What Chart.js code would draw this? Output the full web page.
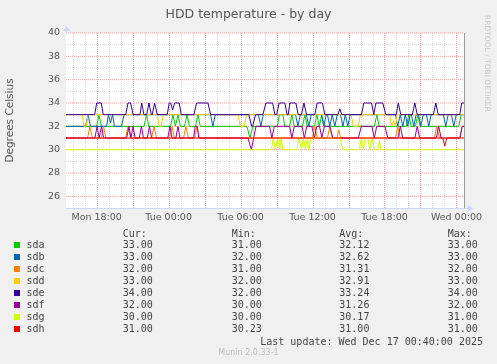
<!DOCTYPE html>
<html>
<head>
<meta charset="utf-8">
<script src="https://cdn.jsdelivr.net/npm/chart.js@4"></script>
<style>
  html, body { margin: 0; padding: 0; background: #F0F0F0; }
  #wrap { position: relative; width: 497px; height: 364px; overflow: hidden; font-family: 'DejaVu Sans', sans-serif; color: #555; }
  #wrap canvas { position: absolute; left: 0; top: 0; }
  .abs { position: absolute; white-space: nowrap; }
  .mono { font-family: 'DejaVu Sans Mono', monospace; font-size: 10px; line-height: 12px; color: #444; }
  .sq { position: absolute; width: 6px; height: 6px; }
</style>
</head>
<body>
<div id="wrap">
  <canvas id="hddChart" width="497" height="364"></canvas>
  <div class="abs" style="left:0;width:497px;top:6px;text-align:center;font-size:12.5px;">HDD temperature - by day</div>
  <div class="abs" style="left:483px;top:15px;font-size:7.5px;color:#c8c8c8;writing-mode:vertical-rl;">RRDTOOL / TOBI OETIKER</div>
  <div id="legend"></div>
  <div class="abs mono" style="right:14px;top:336px;">Last update: Wed Dec 17 00:40:00 2025</div>
  <div class="abs" style="left:0;width:497px;top:348px;text-align:center;font-size:8px;color:#bbb;">Munin 2.0.33-1</div>
</div>
<script>
// time axis in hours counted from Mon 00:00
const T0 = 15.44, T1 = 48.63;
const xLabelHours = [18, 24, 30, 36, 42, 48];
const xLabels = ['Mon 18:00', 'Tue 00:00', 'Tue 06:00', 'Tue 12:00', 'Tue 18:00', 'Wed 00:00'];
const yLabels = [26, 28, 30, 32, 34, 36, 38, 40];

const names = ['sda', 'sdb', 'sdc', 'sdd', 'sde', 'sdf', 'sdg', 'sdh'];
const colors = ['#00CC00', '#0066B3', '#FF8000', '#FFCC00', '#330099', '#990099', '#CCFF00', '#FF0000'];
const curVals = [33.00, 33.00, 32.00, 33.00, 34.00, 32.00, 30.00, 31.00];
const minVals = [31.00, 32.00, 31.00, 32.00, 32.00, 30.00, 30.00, 30.23];
const avgVals = [32.12, 32.62, 31.31, 32.91, 33.24, 31.26, 30.17, 31.00];
const maxVals = [33.00, 33.00, 32.00, 33.00, 34.00, 32.00, 31.00, 31.00];

// [hour, degrees] at each change
const sda = [[15.44,32],[17.99,32],[18.19,33],[18.39,32],[21.95,32],[22.15,33],[22.35,32],[24.16,32],[24.36,33],[24.56,32],
  [24.58,32],[24.78,33],[24.98,32],[25.33,32],[25.53,33],[25.73,32],[26.24,32],[26.44,33],[26.64,32],[30.53,32],[30.78,31],
  [31.03,32],[33.07,32],[33.23,33],[33.52,33],[33.69,32],[34.08,32],[34.28,33],[34.48,32],[35.16,32],[35.36,33],[35.56,32],
  [36.16,32],[36.36,33],[36.56,32],[36.58,32],[36.78,33],[36.98,32],[41.16,32],[41.36,33],[41.56,32],[43.82,32],[44.02,33],
  [44.22,32],[44.58,32],[44.78,33],[44.98,32],[48.19,32],[48.40,33],[48.63,33]];
const sdb = [[15.44,32],[17.07,32],[17.28,33],[17.48,32],[18.82,32],[18.98,33],[19.15,32.3],[19.32,33],[19.48,32],[20.07,32],
  [20.28,33],[27.49,33],[27.69,32],[27.89,33],[31.49,33],[31.69,32],[31.89,33],[34.58,33],[34.78,32],[34.98,33],[35.49,33],
  [35.69,32],[35.89,33],[36.74,33],[36.94,32],[37.14,33],[37.24,33],[37.44,32],[37.64,33],[37.66,33],[37.86,32],[38.06,33],
  [38.33,33],[38.53,32],[38.73,33],[38.74,33],[38.94,32],[39.14,33],[42.91,33],[43.11,32],[43.31,33],[43.33,33],[43.53,32],
  [43.73,33],[43.74,33],[43.94,32],[44.14,33],[44.24,33],[44.44,32],[44.64,33],[44.83,33],[45.03,32],[45.23,33],[45.49,33],
  [45.69,32],[45.89,33],[46.91,33],[47.11,32],[47.31,33],[47.58,33],[47.78,32],[47.98,33],[48.63,33]];
const sdc = [[15.44,31],[17.24,31],[17.44,32],[17.64,31],[18.37,31],[18.57,32],[18.77,31],[20.41,31],[20.61,32],[20.81,31],
  [22.58,31],[22.78,32],[22.98,31],[24.08,31],[24.28,32],[24.48,31],[25.24,31],[25.44,32],[25.64,31],[26.16,31],[26.36,32],
  [26.56,31],[35.99,31],[36.19,32],[36.39,31],[37.24,31],[37.44,32],[37.64,31],[38.04,31],[38.19,31.7],[38.34,31],[42.91,31],
  [43.11,32],[43.31,31],[46.16,31],[46.36,32],[46.56,31],[48.30,31],[48.48,32],[48.63,32]];
const sdd = [[15.44,33],[16.80,33],[16.94,32],[17.11,32],[17.28,33],[23.05,33],[23.22,32],[23.38,32],[23.55,33],[29.78,33],
  [29.98,32],[30.28,32],[30.50,33],[39.22,33],[39.40,32],[39.82,32],[40.00,33],[42.44,33],[42.61,32],[42.78,32.5],[42.90,32],
  [43.07,33],[48.63,33]];
const sde = [[15.44,33],[17.83,33],[18.00,34],[18.38,34],[18.55,33],[20.42,33],[20.61,34],[20.83,34],[21.03,33],[21.61,33],
  [21.75,34],[21.94,33],[22.17,33],[22.36,34],[22.55,33],[22.63,33],[22.83,34],[23.05,33],[23.88,33],[24.05,34],[24.17,34],
  [24.33,33.4],[24.50,34],[24.88,34],[25.05,33],[26.11,33],[26.33,34],[27.28,34],[27.50,33],[30.69,33],[30.92,32],[31.00,32],
  [31.25,33],[31.86,33],[32.11,34],[32.67,34],[32.86,33],[33.00,33],[33.22,34],[33.69,34],[33.88,33],[33.97,33],[34.11,34],
  [34.61,34],[34.80,33],[35.08,33],[35.28,34],[35.50,33],[36.19,33],[36.38,34],[36.83,34],[37.02,33],[38.11,33],[38.28,33.5],
  [38.44,33],[40.08,33],[40.28,34],[40.92,34],[41.11,33],[41.28,34],[41.86,34],[42.11,33],[42.98,33],[43.15,34],[43.36,33],
  [44.32,33],[44.53,34],[44.73,33],[46.07,33],[46.28,34],[46.48,33],[48.28,33],[48.44,34],[48.63,34]];
const sdf = [[15.44,31],[17.85,31],[18.03,32],[18.20,31],[18.25,31],[18.40,32],[18.58,31],[20.50,31],[20.69,32],[20.86,31],
  [21.03,32],[21.20,31],[21.55,31],[21.73,32],[21.90,31],[22.22,31],[22.40,32],[22.58,31],[23.93,31],[24.11,32],[24.28,31],
  [24.60,31],[24.78,32],[24.95,31],[26.08,31],[26.22,32],[26.38,32],[26.52,31],[30.61,31],[30.90,30],[31.28,32],[32.41,32],
  [32.61,31],[32.81,32],[34.08,32],[34.28,31],[34.48,32],[35.12,32],[35.32,31],[35.52,32],[35.95,32],[36.15,31],[36.35,32],
  [36.58,32],[36.78,31],[36.98,32],[37.44,32],[37.69,31],[39.82,31],[40.07,32],[40.95,32],[41.15,31],[41.35,32],[42.03,32],
  [42.28,31],[43.12,31],[43.32,32],[43.52,31],[44.53,31],[44.73,32],[44.93,31],[46.32,31],[46.52,32],[46.72,31],[48.28,31],
  [48.48,32],[48.63,32]];
const sdg = [[15.44,30],[32.57,30],[32.72,31],[32.90,30],[33.11,31],[33.26,30],[33.38,31],[33.53,30],[34.69,30],[34.86,31],
  [35.07,30],[35.24,31],[35.40,30],[35.57,31],[35.69,30],[35.86,31],[38.28,31],[38.53,30],[39.90,30],[40.07,31],[40.23,30],
  [40.40,31],[40.61,31],[40.78,30],[40.94,31],[41.15,30],[41.44,30],[41.57,30.8],[41.69,30],[48.63,30]];
const sdh = [[15.44,31],[46.86,31],[47.03,30.3],[47.19,31],[48.63,31]];

const series = [sda, sdb, sdc, sdd, sde, sdf, sdg, sdh];

// legend rows
const legend = document.getElementById('legend');
const colX = [122.7, 231.7, 339.3, 447.7];
function addText(txt, x, y, cls) {
  const d = document.createElement('div');
  d.className = 'abs ' + cls;
  d.style.left = x + 'px';
  d.style.top = (y - 6) + 'px';
  d.textContent = txt;
  legend.appendChild(d);
}
['Cur:', 'Min:', 'Avg:', 'Max:'].forEach((h, j) => addText(h, colX[j], 233.7, 'mono'));
names.forEach((n, i) => {
  const y = 245 + i * 12;
  const sq = document.createElement('div');
  sq.className = 'sq';
  sq.style.left = '14px';
  sq.style.top = (y - 3) + 'px';
  sq.style.background = colors[i];
  legend.appendChild(sq);
  addText(n, 26.5, y, 'mono');
  [curVals, minVals, avgVals, maxVals].forEach((arr, j) => addText(arr[i].toFixed(2), colX[j], y, 'mono'));
});

const axisColor = '#CFD6F8';
const majorGrid = '#F2A0A0';
const minorGrid = '#D8D8D8';

// white canvas, dotted munin grid, right rule and axis arrows
const muninDecor = {
  id: 'muninDecor',
  beforeDatasetsDraw(chart) {
    const { ctx, chartArea: a, scales } = chart;
    ctx.save();
    ctx.fillStyle = '#FFFFFF';
    ctx.fillRect(a.left, a.top, a.right - a.left, a.bottom - a.top);
    ctx.lineWidth = 1;
    ctx.setLineDash([1, 1]);
    const line = (x1, y1, x2, y2, col) => {
      ctx.strokeStyle = col;
      ctx.beginPath();
      ctx.moveTo(x1, y1);
      ctx.lineTo(x2, y2);
      ctx.stroke();
    };
    scales.x.ticks.forEach(t => {
      const px = Math.round(scales.x.getPixelForValue(t.value)) + 0.5;
      line(px, a.top, px, a.bottom, t.value % 3 === 0 ? majorGrid : minorGrid);
    });
    // horizontal lines sit exactly where the data lines land, so the traces cover them
    scales.y.ticks.forEach(t => {
      if (t.value <= scales.y.min) return;
      const py = scales.y.getPixelForValue(t.value);
      line(a.left, py, a.right, py, t.value % 2 === 0 ? majorGrid : minorGrid);
    });
    ctx.restore();
  },
  afterDraw(chart) {
    const { ctx, chartArea: a } = chart;
    ctx.save();
    ctx.strokeStyle = '#999999';
    ctx.lineWidth = 1;
    ctx.beginPath();
    ctx.moveTo(Math.round(a.right) + 0.5, a.top);
    ctx.lineTo(Math.round(a.right) + 0.5, a.bottom);
    ctx.stroke();
    ctx.strokeStyle = axisColor;
    ctx.beginPath();
    ctx.moveTo(a.left + 0.5, a.top);
    ctx.lineTo(a.left + 0.5, a.top - 4);
    ctx.moveTo(a.right, a.bottom + 0.5);
    ctx.lineTo(a.right + 5, a.bottom + 0.5);
    ctx.stroke();
    ctx.fillStyle = axisColor;
    ctx.beginPath();
    ctx.moveTo(a.left - 3, a.top - 2);
    ctx.lineTo(a.left + 4, a.top - 2);
    ctx.lineTo(a.left + 0.5, a.top - 7);
    ctx.closePath();
    ctx.fill();
    ctx.beginPath();
    ctx.moveTo(a.right + 4, a.bottom - 3);
    ctx.lineTo(a.right + 4, a.bottom + 4);
    ctx.lineTo(a.right + 9, a.bottom + 0.5);
    ctx.closePath();
    ctx.fill();
    ctx.restore();
  }
};

new Chart(document.getElementById('hddChart'), {
  type: 'line',
  data: {
    datasets: series.map((s, i) => ({
      label: names[i],
      data: s.map(p => ({ x: p[0], y: p[1] })),
      borderColor: colors[i],
      borderWidth: 1,
      pointRadius: 0,
      tension: 0,
      fill: false,
      order: names.length - i
    }))
  },
  options: {
    responsive: false,
    animation: false,
    layout: { padding: { left: 0, top: 33, right: 33, bottom: 136 } },
    plugins: { legend: { display: false }, tooltip: { enabled: false }, title: { display: false } },
    scales: {
      x: {
        type: 'linear',
        min: T0,
        max: T1,
        afterFit: s => { s.height = 20; },
        afterBuildTicks: s => {
          const t = [];
          for (let h = Math.ceil(T0); h <= Math.floor(T1); h++) t.push({ value: h });
          s.ticks = t;
        },
        ticks: {
          autoSkip: false,
          maxRotation: 0,
          padding: 4,
          color: '#555',
          font: { family: 'DejaVu Sans', size: 9.5 },
          callback: v => { const k = xLabelHours.indexOf(v); return k >= 0 ? xLabels[k] : ''; }
        },
        grid: { display: false, drawTicks: false },
        border: { display: true, color: axisColor, width: 1 }
      },
      y: {
        min: 25,
        max: 40,
        afterFit: s => { s.width = 66; },
        title: {
          display: true,
          text: 'Degrees Celsius',
          color: '#555',
          font: { family: 'DejaVu Sans', size: 10.5 },
          padding: { top: 4, bottom: 0 }
        },
        ticks: {
          stepSize: 1,
          autoSkip: false,
          padding: 6,
          color: '#555',
          font: { family: 'DejaVu Sans', size: 9.5 },
          callback: v => yLabels.includes(v) ? String(v) : ''
        },
        grid: { display: false, drawTicks: false },
        border: { display: true, color: axisColor, width: 1 }
      }
    }
  },
  plugins: [muninDecor]
});
</script>
</body>
</html>
